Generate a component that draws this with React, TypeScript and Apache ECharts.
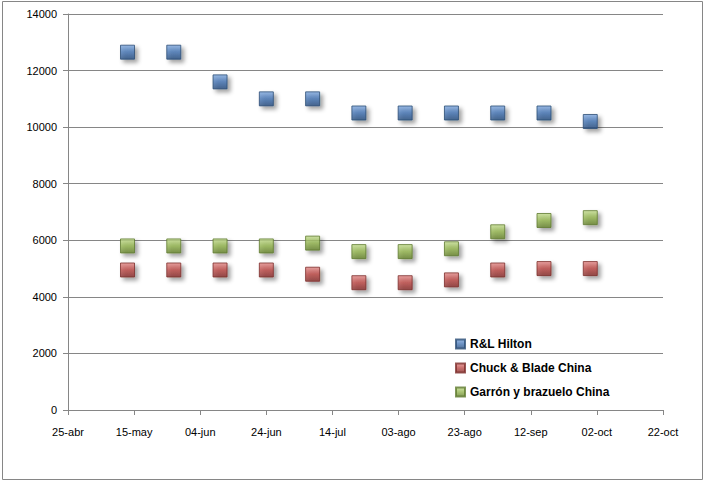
import React, { useEffect, useRef } from "react";
import * as echarts from "echarts";

const xTickLabels = ["25-abr", "15-may", "04-jun", "24-jun", "14-jul", "03-ago", "23-ago", "12-sep", "02-oct", "22-oct"];
// days after 25-abr
const dayOffsets = [18, 32, 46, 60, 74, 88, 102, 116, 130, 144, 158];
const rlHilton = [12650, 12650, 11600, 11000, 11000, 10500, 10500, 10500, 10500, 10500, 10200];
const chuckBlade = [4950, 4950, 4950, 4950, 4800, 4500, 4500, 4600, 4950, 5000, 5000];
const garron = [5800, 5800, 5800, 5800, 5900, 5600, 5600, 5700, 6300, 6700, 6800];
const seriesNames = ["R&L Hilton", "Chuck & Blade China", "Garrón y brazuelo China"];

const FONT = "'Liberation Sans', Arial, sans-serif";

function grad(light: string, mid: string, dark: string) {
  return new echarts.graphic.LinearGradient(0, 0, 0, 1, [
    { offset: 0, color: light },
    { offset: 0.5, color: mid },
    { offset: 1, color: dark },
  ]);
}

export default function App() {
  const ref = useRef<HTMLDivElement>(null);
  useEffect(() => {
    document.body.style.margin = "0";
    const chart = echarts.init(ref.current!, null, { renderer: "svg" });
    const mk = (name: string, vals: number[], fill: any, border: string) => ({
      name,
      type: "scatter",
      symbol: "rect",
      symbolSize: 14,
      data: dayOffsets.map((d, i) => [d, vals[i]]),
      itemStyle: {
        color: fill,
        borderColor: border,
        borderWidth: 1,
        shadowColor: "rgba(0,0,0,0.45)",
        shadowBlur: 4,
        shadowOffsetX: 3,
        shadowOffsetY: 3,
      },
      emphasis: { disabled: true },
    });
    chart.setOption({
      animation: false,
      backgroundColor: "#ffffff",
      graphic: [
        {
          type: "rect",
          shape: { x: 2.5, y: 1.5, width: 700, height: 478 },
          style: { fill: "none", stroke: "#868686", lineWidth: 1 },
          silent: true,
          z: -10,
        },
      ],
      grid: { left: 68, right: 47, top: 14, bottom: 79, containLabel: false },
      legend: {
        orient: "vertical",
        left: 450,
        top: 333,
        itemGap: 12,
        itemWidth: 9,
        itemHeight: 9,
        icon: "rect",
        data: seriesNames,
        textStyle: { fontFamily: FONT, fontSize: 12, fontWeight: "bold", color: "#000" },
        itemStyle: { shadowBlur: 0, shadowOffsetX: 0, shadowOffsetY: 0 },
      },
      xAxis: {
        type: "value",
        min: 0,
        max: 180,
        interval: 20,
        splitLine: { show: false },
        axisLine: { show: true, onZero: false, lineStyle: { color: "#868686" } },
        axisTick: { show: true, length: 5, lineStyle: { color: "#868686" } },
        axisLabel: {
          margin: 16,
          fontFamily: FONT,
          fontSize: 11,
          color: "#000",
          formatter: (v: number) => xTickLabels[Math.round(v / 20)] ?? "",
        },
      },
      yAxis: {
        type: "value",
        min: 0,
        max: 14000,
        interval: 2000,
        splitLine: { show: true, lineStyle: { color: "#868686" } },
        axisLine: { show: true, lineStyle: { color: "#868686" } },
        axisTick: { show: true, length: 5, lineStyle: { color: "#868686" } },
        axisLabel: {
          margin: 11,
          fontFamily: FONT,
          fontSize: 11,
          color: "#000",
          formatter: (v: number) => String(v),
        },
      },
      series: [
        mk(seriesNames[0], rlHilton, grad("#7ea6dc", "#4675b3", "#2a4f80"), "#2c4d76"),
        mk(seriesNames[1], chuckBlade, grad("#e08886", "#bb4a47", "#86302e"), "#7d2e2c"),
        mk(seriesNames[2], garron, grad("#c1da8c", "#93b450", "#66822f"), "#5f7a2f"),
      ],
    });
    return () => chart.dispose();
  }, []);
  return <div ref={ref} style={{ width: 710, height: 489 }} />;
}
